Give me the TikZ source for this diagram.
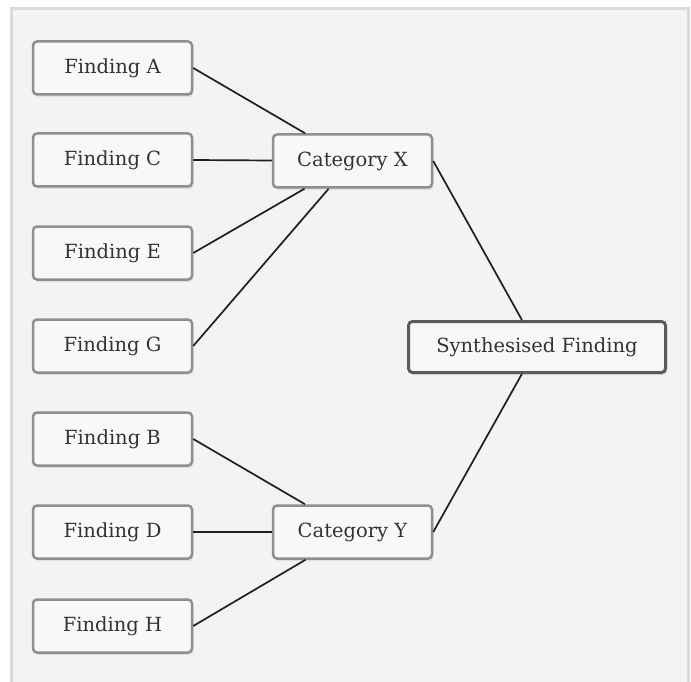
\documentclass[tikz,border=0pt]{standalone}
\usepackage{fontspec}
\setmainfont{DejaVu Serif}
\usetikzlibrary{shadows}
\definecolor{panel}{HTML}{F2F3F3}
\definecolor{frameline}{HTML}{D9DADA}
\definecolor{boxline}{HTML}{8E8F91}
\definecolor{mainline}{HTML}{5A5B5D}
\definecolor{boxfill}{HTML}{F8F8F8}
\definecolor{inktext}{HTML}{333333}
\tikzset{
  finding/.style={draw=boxline, line width=2.5pt, fill=boxfill, rounded corners=4pt,
    minimum width=159pt, minimum height=53pt, text=inktext,
    font=\fontsize{19.5}{23}\selectfont,
    drop shadow={shadow xshift=1.5pt, shadow yshift=-2.5pt, fill=black!12, opacity=1}},
  synth/.style={finding, draw=mainline, line width=3pt, minimum width=257pt, minimum height=51pt},
  link/.style={line width=1.7pt, draw=black!88}
}
\begin{document}
\begin{tikzpicture}[x=1pt, y=-1pt]
    \useasboundingbox (0,0) rectangle (691,682);
    % Panel
    \fill[panel] (11,9) rectangle (688,682);
    \draw[frameline, line width=3pt] (11,682) -- (11,9) -- (688,9) -- (688,682);

    % Findings
    \node[finding] (fa) at (112.5,68)  {Finding A};
    \node[finding] (fc) at (112.5,160) {Finding C};
    \node[finding] (fe) at (112.5,253) {Finding E};
    \node[finding] (fg) at (112.5,346) {Finding G};
    \node[finding] (fb) at (112.5,439) {Finding B};
    \node[finding] (fd) at (112.5,532) {Finding D};
    \node[finding] (fh) at (112.5,626) {Finding H};

    % Categories
    \node[finding] (catx) at (352.5,161) {Category X};
    \node[finding] (caty) at (352.5,532) {Category Y};

    % Result
    \node[synth] (synth) at (537,347) {Synthesised Finding};

    % Links
    \foreach \f in {fa,fc,fe,fg}
        \draw[link] (\f.east) -- (catx);
    \foreach \f in {fb,fd,fh}
        \draw[link] (\f.east) -- (caty);
    \draw[link] (catx.east) -- (synth);
    \draw[link] (caty.east) -- (synth);
\end{tikzpicture}
\end{document}
